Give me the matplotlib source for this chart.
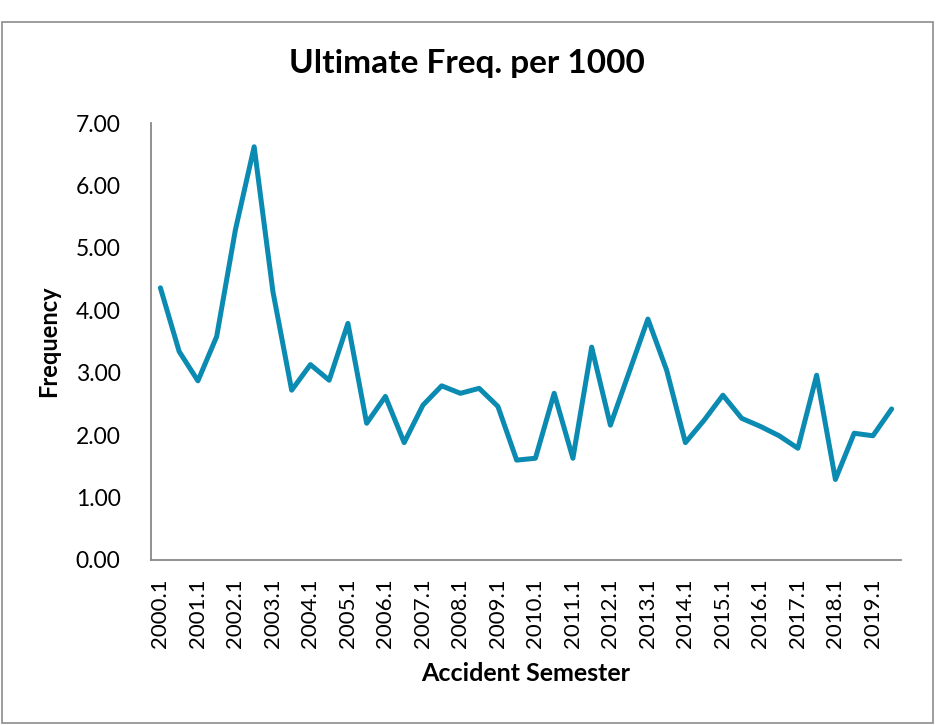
import numpy as np
import matplotlib.pyplot as plt
from matplotlib.patches import Rectangle

plt.rcParams['font.family'] = ['Lato', 'DejaVu Sans']

# Accident semesters 2000.1 .. 2019.2
years = list(range(2000, 2020))
semesters = [f"{y}.{s}" for y in years for s in (1, 2)]

# Ultimate frequency per 1000
freq = [4.36, 3.34, 2.87, 3.58, 5.29, 6.62, 4.30, 2.72, 3.13, 2.88,
        3.79, 2.19, 2.62, 1.88, 2.48, 2.79, 2.67, 2.75, 2.46, 1.60,
        1.63, 2.67, 1.63, 3.41, 2.16, 3.01, 3.86, 3.04, 1.88, 2.24,
        2.64, 2.27, 2.14, 1.99, 1.79, 2.96, 1.29, 2.03, 1.99, 2.42]

yticks = [0, 1, 2, 3, 4, 5, 6, 7]

fig = plt.figure(figsize=(9.37, 7.25), dpi=100)
ax = fig.add_axes([0.1612, 0.2276, 0.8004, 0.6027])

x = np.arange(len(semesters))
ax.plot(x, freq, color='#0b8bb1', lw=3.6, solid_joinstyle='round', solid_capstyle='round')

ax.set_xlim(-0.5, len(semesters) - 0.5)
ax.set_ylim(0, 7)
ax.set_yticks(yticks)
ax.set_yticklabels([f"{v:.2f}" for v in yticks], fontsize=16.5)
ax.set_xticks(x[::2])
ax.set_xticklabels(semesters[::2], rotation=90, fontsize=16)
ax.tick_params(axis='y', length=0, pad=22)
ax.tick_params(axis='x', length=0, pad=13)

for side in ('top', 'right'):
    ax.spines[side].set_visible(False)
for side in ('left', 'bottom'):
    ax.spines[side].set_color('#888888')
    ax.spines[side].set_linewidth(1.3)

ax.set_xlabel('Accident Semester', fontsize=18, fontweight='bold', labelpad=10)
ax.set_ylabel('Frequency', fontsize=17, fontweight='bold', labelpad=11)

fig.text(0.498, 0.899, 'Ultimate Freq. per 1000', ha='center', va='baseline',
         fontsize=24, fontweight='bold')

# outer chart border
fig.patches.append(Rectangle((0.002, 0.003), 0.994, 0.966, transform=fig.transFigure,
                             fill=False, edgecolor='#8c8c8c', lw=1.2))

fig.savefig('out.png', dpi=100)
